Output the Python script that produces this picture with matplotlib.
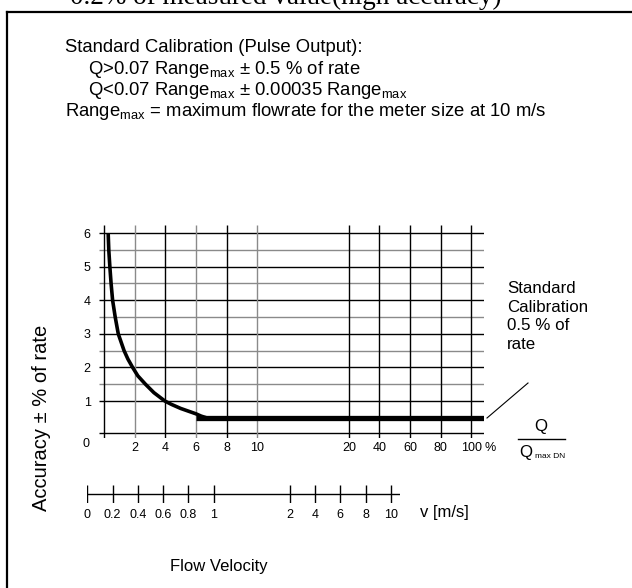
import numpy as np
import matplotlib
matplotlib.use("Agg")
import matplotlib.pyplot as plt
from matplotlib.lines import Line2D

plt.rcParams['font.family'] = ['Liberation Sans', 'DejaVu Sans']

# ---------------- data ----------------
x_ticks_pct = [2, 4, 6, 8, 10, 20, 40, 60, 80, 100]
x_tick_labels = ['2', '4', '6', '8', '10', '20', '40', '60', '80', '100']
x_tick_gray = [True, False, True, False, True, False, False, False, False, False]
y_major = [1, 2, 3, 4, 5, 6]
y_minor = [1.5, 2.5, 3.5, 4.5, 5.5]
# accuracy curve (low flow)
curve_x = [0.26, 0.30, 0.37, 0.45, 0.55, 0.72, 0.92, 1.3, 1.55, 1.86, 2.2, 2.7, 3.25, 3.97,
           4.4, 5.0, 5.5, 6.0, 6.35, 6.7]
curve_y = [6.0, 5.5, 5.0, 4.5, 4.0, 3.5, 3.0, 2.5, 2.25, 2.0, 1.75, 1.5, 1.25, 1.0,
           0.9, 0.78, 0.7, 0.62, 0.55, 0.5]
# standard calibration plateau
plateau_x = [6.0, 108.4]
plateau_y = [0.5, 0.5]
# velocity scale
v_ticks = [0, 0.2, 0.4, 0.6, 0.8, 1, 2, 4, 6, 8, 10]
v_labels = ['0', '0.2', '0.4', '0.6', '0.8', '1', '2', '4', '6', '8', '10']

W, H = 632, 588
fig = plt.figure(figsize=(W / 100, H / 100), dpi=100)


def fx(px):
    return px / W


def fy(py):
    return 1 - py / H


def pct_fwd(p):
    p = np.asarray(p, float)
    return np.where(p <= 10, p / 2, np.where(p <= 20, 5 + (p - 10) * 0.3, 8 + (p - 20) / 20))


def pct_inv(t):
    t = np.asarray(t, float)
    return np.where(t <= 5, t * 2, np.where(t <= 8, 10 + (t - 5) / 0.3, 20 + (t - 8) * 20))


def v_fwd(v):
    v = np.asarray(v, float)
    return np.where(v <= 1, v * 5, np.where(v <= 2, 5 + (v - 1) * 3, 8 + (v - 2) / 2))


def v_inv(t):
    t = np.asarray(t, float)
    return np.where(t <= 5, t / 5, np.where(t <= 8, 1 + (t - 5) / 3, 2 + (t - 8) * 2))


# ---------------- frame ----------------
fig.add_artist(Line2D([fx(7), fx(W)], [fy(12), fy(12)], color='black', lw=1.6))
fig.add_artist(Line2D([fx(7), fx(7)], [fy(12), fy(H)], color='black', lw=1.6))

# cut-off caption at the very top
fig.text(fx(70), fy(4), '0.2% of measured value(high accuracy)', family='Liberation Serif',
         fontsize=19.5, va='baseline', ha='left')

# ---------------- header text ----------------
hs = 13.3
fig.text(fx(65), fy(48), 'Standard Calibration (Pulse Output):', fontsize=hs, va='center')
fig.text(fx(88), fy(69), r'Q>0.07 Range$_{\mathregular{max}}$ ± 0.5 % of rate', fontsize=hs, va='center')
fig.text(fx(88), fy(90), r'Q<0.07 Range$_{\mathregular{max}}$ ± 0.00035 Range$_{\mathregular{max}}$', fontsize=hs, va='center')
fig.text(fx(65), fy(112), r'Range$_{\mathregular{max}}$ = maximum flowrate for the meter size at 10 m/s', fontsize=hs, va='center')

# ---------------- main grid axes ----------------
L, R, T, B = 99, 484, 225, 438
ax = fig.add_axes([fx(L), fy(B), fx(R - L), (B - T) / H])
ax.set_xscale('function', functions=(pct_fwd, pct_inv))
xmin, xmax = float(pct_inv(-0.17)), float(pct_inv(12.42))
ymin, ymax = -0.1, 6.24
ax.set_xlim(xmin, xmax)
ax.set_ylim(ymin, ymax)
for s in ax.spines.values():
    s.set_visible(False)

grid_lw = 1.0
for yv in y_major:
    ax.hlines(yv, xmin, xmax, color='black', lw=grid_lw)
for yv in y_minor:
    ax.hlines(yv, xmin, xmax, color='#8a8a8a', lw=grid_lw)
ax.hlines(0.05, xmin, xmax, color='black', lw=grid_lw)
ax.vlines(0, ymin, ymax, color='black', lw=grid_lw)
for xv, g in zip(x_ticks_pct, x_tick_gray):
    ax.vlines(xv, ymin, ymax, color='#8a8a8a' if g else 'black', lw=grid_lw)

ax.plot(plateau_x, plateau_y, color='black', lw=3.8, solid_capstyle='butt', zorder=5)
ax.plot(curve_x, curve_y, color='black', lw=2.6, solid_capstyle='butt',
        solid_joinstyle='round', zorder=5)

ax.set_yticks(y_major, [str(v) for v in y_major])
ax.set_xticks(x_ticks_pct, x_tick_labels)
ax.tick_params(axis='both', length=0, labelsize=9, colors='black')
ax.tick_params(axis='y', pad=6)
ax.tick_params(axis='x', pad=3)
ax.set_xticks([], minor=True)
ax.text(-1.2, -0.1, '0', transform=ax.transData, fontsize=9, ha='center', va='top')
ax.annotate('%', xy=(100, ymin), xycoords='data', xytext=(9.5, -3), textcoords='offset points',
            fontsize=9, ha='left', va='top')

# leader line and annotation
fig.add_artist(Line2D([fx(487), fx(528)], [fy(418), fy(383)], color='black', lw=0.8))
fig.text(fx(507), fy(281), 'Standard\nCalibration\n0.5 % of\nrate', fontsize=12.2, va='top',
         ha='left', linespacing=1.3)

# Q / Qmax DN
fig.text(fx(541), fy(427), 'Q', fontsize=12.2, ha='center', va='center')
fig.add_artist(Line2D([fx(518), fx(565)], [fy(439), fy(439)], color='black', lw=1.0))
fig.text(fx(519), fy(452), 'Q', fontsize=12.2, ha='left', va='center')
fig.text(fx(535), fy(456), 'max DN', fontsize=6, ha='left', va='center')

# y label
fig.text(fx(42), fy(418), 'Accuracy ± % of rate', fontsize=14.5, rotation=90, ha='center', va='center')

# ---------------- velocity axis ----------------
vL, vR = 87.3, 400
vT, vB = 485, 503
ax2 = fig.add_axes([fx(vL), fy(vB), fx(vR - vL), (vB - vT) / H])
ax2.set_xscale('function', functions=(v_fwd, v_inv))
ax2.set_xlim(0, float(v_inv(12.36)))
ax2.set_ylim(0, 1)
for s in ax2.spines.values():
    s.set_visible(False)
ax2.hlines(0.5, 0, float(v_inv(12.36)), color='black', lw=1.0)
ax2.vlines(v_ticks, 0, 1, color='black', lw=1.0)
ax2.set_yticks([])
ax2.set_xticks(v_ticks, v_labels)
ax2.set_xticks([], minor=True)
ax2.tick_params(axis='x', length=0, pad=4, labelsize=9)
fig.text(fx(420), fy(513), 'v [m/s]', fontsize=12, ha='left', va='center')

fig.text(fx(219), fy(566), 'Flow Velocity', fontsize=12, ha='center', va='center')

fig.savefig('out.png', dpi=100)
